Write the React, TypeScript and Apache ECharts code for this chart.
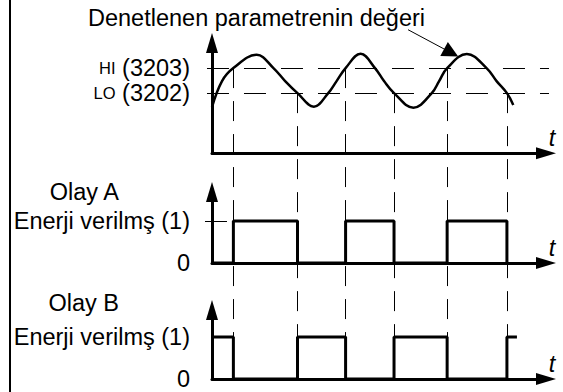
import React, { useEffect, useRef } from 'react';
import * as echarts from 'echarts';

const FONT = '"Liberation Sans", Arial, Helvetica, sans-serif';

// ---- texts ----
const titleText = 'Denetlenen parametrenin değeri';
const timeName = 't';
const hiLabel = 'HI';
const loLabel = 'LO';
const hiValue = 3203;
const loValue = 3202;
const eventNames = ['Olay A', 'Olay B'];
const energizedLabel = 'Enerji verilmş (1)';
const zeroLabel = '0';

const curveT = [0, 3.0, 6.4, 13.4, 18.4, 21.9, 25.6, 30.5, 34.8, 37.3, 40.0, 44.5, 48.8, 51.5, 54.5, 60.3, 65.8, 68.0, 70.4, 76.3, 82.2, 85.2, 88.3, 90.2];
const curveV = [3201.44, 3202.48, 3203, 3203.53, 3203, 3202.48, 3202, 3201.46, 3202, 3202.48, 3203, 3203.57, 3203, 3202.48, 3202, 3201.42, 3202, 3202.48, 3203, 3203.56, 3203, 3202.48, 3202, 3201.53];

// ---- switching instants and the threshold crossed there ----
const switchT = [6.4, 25.6, 40.0, 54.5, 70.4, 88.3];
const switchLevel = [3203, 3202, 3203, 3202, 3203, 3202];

// ---- event outputs (state changes) ----
const eventAT = [0, 6.4, 25.6, 40.0, 54.5, 70.4, 88.3];
const eventAV = [0, 1, 0, 1, 0, 1, 0];
const eventBT = [0, 6.4, 25.6, 40.0, 54.5, 70.4, 88.3, 91.3];
const eventBV = [1, 0, 1, 0, 1, 0, 1, 1];

// ---- pointer from the title to the curve ----
const pointerFrom = [58.7, 3204.53];
const pointerTo = [71.6, 3203.61];

// threshold line extents (t)
const thresholdT = [-1.5, 100.9];
const levelTickT = [-2.1, 6.4];

const zip = (a: number[], b: number[]) => a.map((v, i) => [v, b[i]]);

export default function App() {
  const ref = useRef<HTMLDivElement>(null);
  useEffect(() => {
    if (!ref.current) return;
    const chart = echarts.init(ref.current, undefined, { renderer: 'svg' });

    // layout
    const gridLeft = 212;
    const gridWidth = 334;
    const g1 = { top: 43, height: 110.3 };
    const g2 = { top: 192, height: 71 };
    const g3 = { top: 310, height: 69 };
    const y1Min = 3199.6, y1Max = 3204;
    const y2Max = 1.69, y3Max = 1.643;
    const pxPerUnit1 = g1.height / (y1Max - y1Min);
    const bottomOfAll = g3.top + g3.height;
    const guideBottom = y1Min - (bottomOfAll - (g1.top + g1.height)) / pxPerUnit1;

    const axisLine = {
      show: true,
      onZero: false,
      symbol: ['none', 'triangle'],
      symbolSize: [12, 20],
      lineStyle: { color: '#000', width: 3 },
    };
    const xAxis = (gridIndex: number) => ({
      type: 'value',
      gridIndex,
      min: 0,
      max: 100,
      axisLine,
      axisTick: { show: false },
      axisLabel: { show: false },
      splitLine: { show: false },
      name: timeName,
      nameLocation: 'end',
      nameGap: 6,
      nameTextStyle: {
        fontFamily: FONT,
        fontSize: 23.5,
        fontStyle: 'italic',
        color: '#000',
        align: 'center',
        verticalAlign: 'bottom',
        padding: [0, 0, 4, 0],
      },
    });
    const labelBase = {
      margin: 22,
      fontFamily: FONT,
      fontSize: 23.5,
      color: '#000',
    };
    const eventYAxis = (gridIndex: number, max: number, name: string, gap: number) => ({
      type: 'value',
      gridIndex,
      min: 0,
      max,
      axisLine,
      axisTick: { show: false },
      splitLine: { show: false },
      axisLabel: {
        ...labelBase,
        customValues: [0, 1],
        formatter: (v: number) => (v === 1 ? energizedLabel : zeroLabel),
      },
      name,
      nameLocation: 'end',
      nameGap: gap,
      nameTextStyle: {
        fontFamily: FONT,
        fontSize: 23.5,
        color: '#000',
        align: 'right',
        verticalAlign: 'middle',
        padding: [0, 93, 0, 0],
      },
    });

    const dashed = (w: number, pattern: number[]) => ({ color: '#000', width: w, type: pattern, opacity: 1 });

    chart.setOption({
      animation: false,
      backgroundColor: '#fff',
      title: {
        text: titleText,
        left: 88,
        top: 6,
        padding: 0,
        textStyle: { fontFamily: FONT, fontSize: 23.5, fontWeight: 'normal', color: '#000' },
      },
      graphic: [
        { type: 'rect', left: 9, top: 0, shape: { width: 2, height: 392 }, style: { fill: '#000' } },
      ],
      grid: [
        { left: gridLeft, width: gridWidth, top: g1.top, height: g1.height },
        { left: gridLeft, width: gridWidth, top: g2.top, height: g2.height },
        { left: gridLeft, width: gridWidth, top: g3.top, height: g3.height },
      ],
      xAxis: [xAxis(0), xAxis(1), xAxis(2)],
      yAxis: [
        {
          type: 'value',
          gridIndex: 0,
          min: y1Min,
          max: y1Max,
          axisLine,
          axisTick: { show: false },
          splitLine: { show: false },
          axisLabel: {
            ...labelBase,
            customValues: [loValue, hiValue],
            formatter: (v: number) =>
              v === hiValue ? `{s|${hiLabel}} (${hiValue})` : `{s|${loLabel}} (${loValue})`,
            rich: { s: { fontFamily: FONT, fontSize: 16.5, color: '#000' } },
          },
        },
        eventYAxis(1, y2Max, eventNames[0], 0),
        eventYAxis(2, y3Max, eventNames[1], 7),
      ],
      series: [
        {
          type: 'lines',
          coordinateSystem: 'cartesian2d',
          xAxisIndex: 0,
          yAxisIndex: 0,
          clip: false,
          silent: true,
          lineStyle: dashed(1, [22, 15]),
          data: [
            { coords: [[thresholdT[0], hiValue], [thresholdT[1], hiValue]] },
            { coords: [[thresholdT[0], loValue], [thresholdT[1], loValue]] },
          ],
        },
        {
          type: 'lines',
          coordinateSystem: 'cartesian2d',
          xAxisIndex: 0,
          yAxisIndex: 0,
          clip: false,
          silent: true,
          lineStyle: dashed(1, [20, 13]),
          data: switchT.map((t, i) => ({ coords: [[t, switchLevel[i]], [t, guideBottom]] })),
        },
        {
          type: 'line',
          xAxisIndex: 0,
          yAxisIndex: 0,
          data: zip(curveT, curveV),
          smooth: 0.4,
          showSymbol: false,
          lineStyle: { color: '#000', width: 2.5 },
        },
        {
          type: 'lines',
          coordinateSystem: 'cartesian2d',
          xAxisIndex: 0,
          yAxisIndex: 0,
          clip: false,
          silent: true,
          symbol: ['none', 'triangle'],
          symbolSize: [10, 16],
          lineStyle: { color: '#000', width: 1, opacity: 1 },
          itemStyle: { color: '#000', opacity: 1 },
          data: [{ coords: [pointerFrom, pointerTo] }],
        },
        {
          type: 'lines',
          coordinateSystem: 'cartesian2d',
          xAxisIndex: 1,
          yAxisIndex: 1,
          clip: false,
          silent: true,
          lineStyle: dashed(1, [22, 15]),
          data: [{ coords: [[levelTickT[0], 1], [levelTickT[1], 1]] }],
        },
        {
          type: 'line',
          xAxisIndex: 1,
          yAxisIndex: 1,
          step: 'end',
          data: zip(eventAT, eventAV),
          showSymbol: false,
          lineStyle: { color: '#000', width: 3 },
        },
        {
          type: 'line',
          xAxisIndex: 2,
          yAxisIndex: 2,
          step: 'end',
          data: zip(eventBT, eventBV),
          showSymbol: false,
          lineStyle: { color: '#000', width: 3 },
        },
      ],
    });
    return () => chart.dispose();
  }, []);
  return (
    <div
      ref={ref}
      style={{ position: 'absolute', left: 0, top: 0, width: 563, height: 392, background: '#fff' }}
    />
  );
}
